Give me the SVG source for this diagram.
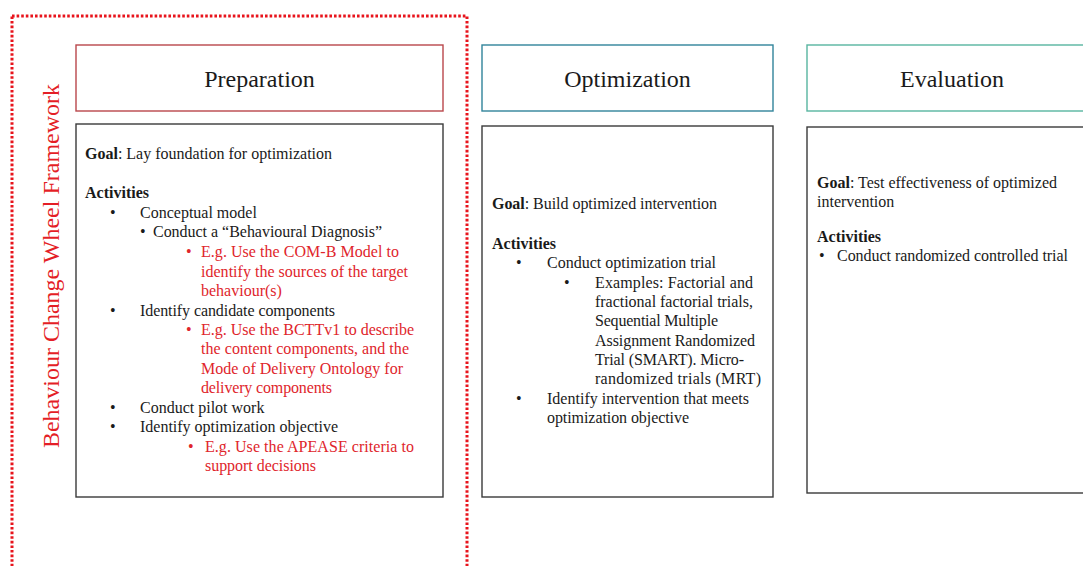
<svg xmlns="http://www.w3.org/2000/svg" width="1083" height="566" viewBox="0 0 1083 566">
<style>
  text { font-family: "Liberation Serif", "Times New Roman", serif; }
  .hdr { font-size: 24px; fill: #1a1a1a; text-anchor: middle; }
  .t { font-size: 16px; fill: #1a1a1a; }
  .r { font-size: 16px; fill: #e0252b; }
  .b { font-weight: bold; }
  .body { fill: #ffffff; stroke: #3a3a3a; stroke-width: 1.4; }
  .frame { fill: none; stroke: #e8141c; stroke-width: 3; stroke-dasharray: 2.6 2; }
</style>
<rect width="1083" height="566" fill="#ffffff"/>

<g id="framework">
  <rect class="frame" x="12" y="16" width="455" height="570"/>
  <text transform="translate(59,266) rotate(-90)" text-anchor="middle" style="font-size:24px;fill:#e41e26">Behaviour Change Wheel Framework</text>
</g>

<g id="preparation">
  <rect x="76" y="45" width="367" height="66" fill="#ffffff" stroke="#b9474b" stroke-width="1.4"/>
  <text class="hdr" x="259.5" y="87">Preparation</text>
  <rect class="body" x="76" y="124" width="367" height="373"/>
  <text class="t" x="85" y="159"><tspan class="b">Goal</tspan>: Lay foundation  for optimization</text>
  <text class="t b" x="85" y="198">Activities</text>
  <text class="t" x="110" y="218">•</text>
  <text class="t" x="140" y="218">Conceptual model</text>
  <text class="t" x="140" y="237">•</text>
  <text class="t" x="153" y="237" textLength="229" lengthAdjust="spacing">Conduct a “Behavioural Diagnosis”</text>
  <text class="r" x="186" y="257">•</text>
  <text class="r" x="201" y="257" textLength="198" lengthAdjust="spacing">E.g. Use the COM-B Model to</text>
  <text class="r" x="201" y="277" textLength="207" lengthAdjust="spacing">identify the sources of the target</text>
  <text class="r" x="201" y="296">behaviour(s)</text>
  <text class="t" x="110" y="316">•</text>
  <text class="t" x="140" y="316" textLength="195" lengthAdjust="spacing">Identify candidate components</text>
  <text class="r" x="186" y="335">•</text>
  <text class="r" x="201" y="335" textLength="213" lengthAdjust="spacing">E.g. Use the BCTTv1 to describe</text>
  <text class="r" x="201" y="354" textLength="208" lengthAdjust="spacing">the content components, and the</text>
  <text class="r" x="201" y="374" textLength="202" lengthAdjust="spacing">Mode of Delivery Ontology for</text>
  <text class="r" x="201" y="393" textLength="131" lengthAdjust="spacing">delivery components</text>
  <text class="t" x="110" y="413">•</text>
  <text class="t" x="140" y="413">Conduct pilot work</text>
  <text class="t" x="110" y="432">•</text>
  <text class="t" x="140" y="432" textLength="198" lengthAdjust="spacing">Identify optimization objective</text>
  <text class="r" x="188" y="452">•</text>
  <text class="r" x="205" y="452" textLength="209" lengthAdjust="spacing">E.g. Use the APEASE criteria to</text>
  <text class="r" x="205" y="471" textLength="111" lengthAdjust="spacing">support decisions</text>
</g>

<g id="optimization">
  <rect x="482" y="45" width="291" height="66" fill="#ffffff" stroke="#31849b" stroke-width="1.4"/>
  <text class="hdr" x="627.5" y="87">Optimization</text>
  <rect class="body" x="482" y="126" width="291" height="371"/>
  <text class="t" x="492" y="209" textLength="225" lengthAdjust="spacing"><tspan class="b">Goal</tspan>: Build optimized intervention</text>
  <text class="t b" x="492" y="249">Activities</text>
  <text class="t" x="516" y="268">•</text>
  <text class="t" x="547" y="268" textLength="169" lengthAdjust="spacing">Conduct optimization trial</text>
  <text class="t" x="564" y="288">•</text>
  <text class="t" x="595" y="288" textLength="158" lengthAdjust="spacing">Examples: Factorial and</text>
  <text class="t" x="595" y="307" textLength="158" lengthAdjust="spacing">fractional factorial trials,</text>
  <text class="t" x="595" y="326" textLength="123" lengthAdjust="spacing">Sequential Multiple</text>
  <text class="t" x="595" y="346" textLength="160" lengthAdjust="spacing">Assignment Randomized</text>
  <text class="t" x="595" y="365" textLength="149" lengthAdjust="spacing">Trial (SMART). Micro-</text>
  <text class="t" x="595" y="384" textLength="166" lengthAdjust="spacing">randomized trials (MRT)</text>
  <text class="t" x="516" y="404">•</text>
  <text class="t" x="547" y="404" textLength="202" lengthAdjust="spacing">Identify intervention that meets</text>
  <text class="t" x="547" y="423" textLength="142" lengthAdjust="spacing">optimization objective</text>
</g>

<g id="evaluation">
  <rect x="807" y="45" width="290" height="66" fill="#ffffff" stroke="#58b5a0" stroke-width="1.4"/>
  <text class="hdr" x="952" y="87">Evaluation</text>
  <rect class="body" x="807" y="127" width="290" height="366"/>
  <text class="t" x="817" y="188" textLength="240" lengthAdjust="spacing"><tspan class="b">Goal</tspan>: Test effectiveness of optimized</text>
  <text class="t" x="817" y="207">intervention</text>
  <text class="t b" x="817" y="242">Activities</text>
  <text class="t" x="819" y="261">•</text>
  <text class="t" x="837" y="261" textLength="231" lengthAdjust="spacing">Conduct randomized controlled trial</text>
</g>

<g id="connectors"></g>
</svg>
